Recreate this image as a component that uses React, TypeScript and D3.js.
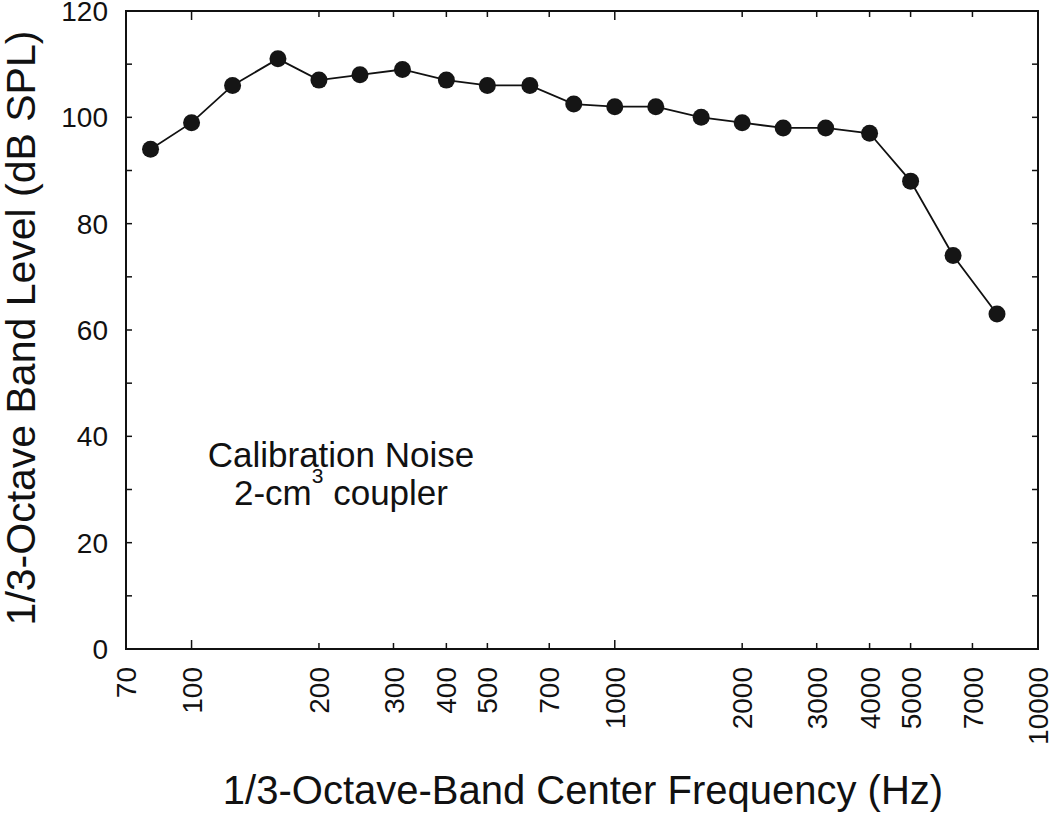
import React, { useEffect, useRef } from "react";
import * as d3 from "d3";

// 1/3-octave band centre frequencies (Hz) and measured band levels (dB SPL)
const freqs = [80, 100, 125, 160, 200, 250, 315, 400, 500, 630, 800, 1000, 1250, 1600, 2000, 2500, 3150, 4000, 5000, 6300, 8000];
const levels = [94, 99, 106, 111, 107, 108, 109, 107, 106, 106, 102.5, 102, 102, 100, 99, 98, 98, 97, 88, 74, 63];

const xTicks = [70, 100, 200, 300, 400, 500, 700, 1000, 2000, 3000, 4000, 5000, 7000, 10000];
const yTicks = [0, 20, 40, 60, 80, 100, 120];
const yMinor = [10, 30, 50, 70, 90, 110];

const W = 1050;
const H = 817;
const margin = { top: 11, right: 12, bottom: 168, left: 126 };
const FONT = "'Liberation Sans', Arial, sans-serif";

export default function App() {
  const ref = useRef<SVGSVGElement>(null);

  useEffect(() => {
    const svg = d3.select(ref.current);
    svg.selectAll("*").remove();

    const iw = W - margin.left - margin.right;
    const ih = H - margin.top - margin.bottom;

    const x = d3.scaleLog().domain([70, 10000]).range([0, iw]);
    const y = d3.scaleLinear().domain([0, 120]).range([ih, 0]);

    const g = svg.append("g").attr("transform", `translate(${margin.left},${margin.top})`);

    // frame
    g.append("rect")
      .attr("width", iw)
      .attr("height", ih)
      .attr("fill", "none")
      .attr("stroke", "#111")
      .attr("stroke-width", 2);

    // x ticks bottom/top, inward
    const tickLen = (v: number) => (v === 100 || v === 1000 ? 9 : 6);
    xTicks.filter((v) => v > 70 && v < 10000).forEach((v) => {
      g.append("line")
        .attr("x1", x(v)).attr("x2", x(v))
        .attr("y1", ih).attr("y2", ih - tickLen(v))
        .attr("stroke", "#111").attr("stroke-width", 1.5);
      g.append("line")
        .attr("x1", x(v)).attr("x2", x(v))
        .attr("y1", 0).attr("y2", tickLen(v))
        .attr("stroke", "#111").attr("stroke-width", 1.5);
    });

    // y ticks both sides, inward
    [...yTicks, ...yMinor].filter((v) => v > 0 && v < 120).forEach((v) => {
      g.append("line")
        .attr("x1", 0).attr("x2", 6)
        .attr("y1", y(v)).attr("y2", y(v))
        .attr("stroke", "#111").attr("stroke-width", 1.5);
      g.append("line")
        .attr("x1", iw).attr("x2", iw - 6)
        .attr("y1", y(v)).attr("y2", y(v))
        .attr("stroke", "#111").attr("stroke-width", 1.5);
    });

    // y tick labels
    g.selectAll(".ylab")
      .data(yTicks)
      .enter()
      .append("text")
      .attr("x", -18)
      .attr("y", (d) => y(d))
      .attr("dy", "0.36em")
      .attr("text-anchor", "end")
      .attr("font-family", FONT)
      .attr("font-size", 28)
      .attr("fill", "#111")
      .text((d) => d);

    // x tick labels, rotated
    g.selectAll(".xlab")
      .data(xTicks)
      .enter()
      .append("text")
      .attr("transform", (d) => `translate(${x(d)},${ih + 18}) rotate(-90)`)
      .attr("dy", "0.36em")
      .attr("text-anchor", "end")
      .attr("font-family", FONT)
      .attr("font-size", 28)
      .attr("fill", "#111")
      .text((d) => d);

    // line + markers
    const pts = freqs.map((f, i) => [f, levels[i]] as [number, number]);
    g.append("path")
      .attr("d", d3.line<[number, number]>().x((d) => x(d[0])).y((d) => y(d[1]))(pts) || "")
      .attr("fill", "none")
      .attr("stroke", "#111")
      .attr("stroke-width", 1.8);

    g.selectAll("circle")
      .data(pts)
      .enter()
      .append("circle")
      .attr("cx", (d) => x(d[0]))
      .attr("cy", (d) => y(d[1]))
      .attr("r", 8.5)
      .attr("fill", "#151515");

    // annotation
    const noteX = 341 - margin.left;
    g.append("text")
      .attr("font-family", FONT)
      .attr("font-size", 35)
      .attr("fill", "#111")
      .attr("text-anchor", "middle")
      .attr("x", noteX)
      .attr("y", 467 - margin.top)
      .text("Calibration Noise");
    const l2 = g.append("text")
      .attr("font-family", FONT)
      .attr("font-size", 35)
      .attr("fill", "#111")
      .attr("text-anchor", "middle")
      .attr("x", noteX)
      .attr("y", 505 - margin.top);
    l2.append("tspan").text("2-cm");
    l2.append("tspan").attr("dy", -22).attr("font-size", 21).text("3");
    l2.append("tspan").attr("dy", 22).text(" coupler");

    // axis titles
    svg.append("text")
      .attr("x", 583)
      .attr("y", 804)
      .attr("text-anchor", "middle")
      .attr("font-family", FONT)
      .attr("font-size", 40)
      .attr("fill", "#111")
      .text("1/3-Octave-Band Center Frequency (Hz)");

    svg.append("text")
      .attr("transform", `translate(35,328) rotate(-90)`)
      .attr("text-anchor", "middle")
      .attr("font-family", FONT)
      .attr("font-size", 41)
      .attr("fill", "#111")
      .text("1/3-Octave Band Level (dB SPL)");
  }, []);

  return (
    <svg
      ref={ref}
      width={W}
      height={H}
      style={{ position: "absolute", left: 0, top: 0, background: "#fff" }}
    />
  );
}
